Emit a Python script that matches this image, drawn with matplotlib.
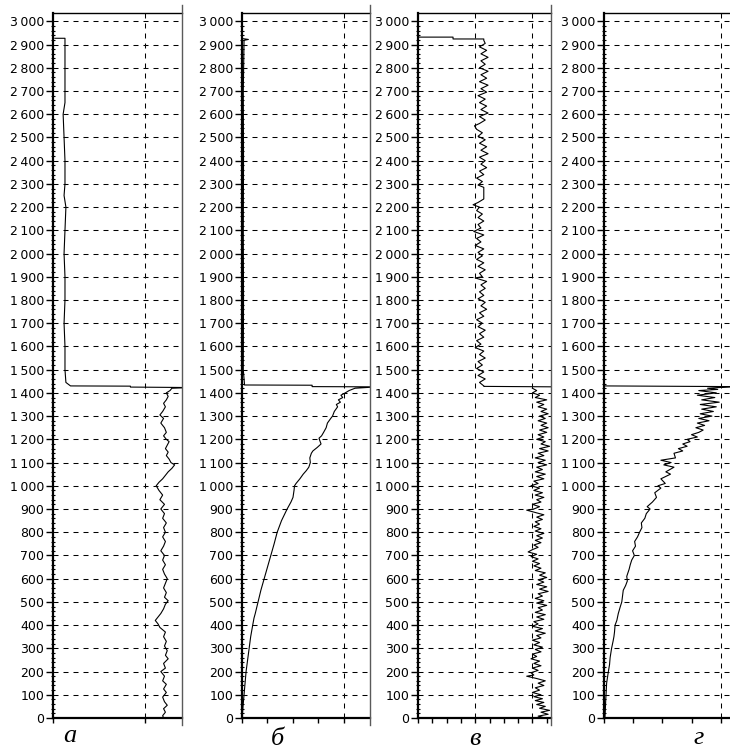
import matplotlib
matplotlib.use("Agg")
import matplotlib.pyplot as plt
from matplotlib.ticker import FixedLocator, FuncFormatter
from matplotlib.lines import Line2D

plt.rcParams['lines.scale_dashes'] = False
plt.rcParams['font.family'] = ['DejaVu Sans']

# ---------------- data ----------------
depth_major = list(range(0, 3001, 100))
depth_minor = list(range(0, 3001, 20))

# panel а
a_depth = [0, 10, 25, 40, 55, 70, 90, 110, 125, 145, 160, 180, 200, 215, 235, 255, 270, 290,
           310, 330, 350, 370, 390, 405, 420, 435, 450, 470, 490, 505, 520, 540, 560, 580,
           600, 620, 640, 660, 680, 700, 720, 740, 760, 780, 800, 820, 840, 860, 880, 900,
           920, 940, 960, 980, 1000, 1015, 1030, 1045, 1060, 1075, 1090, 1100, 1115, 1130,
           1145, 1160, 1175, 1190, 1200, 1215, 1230, 1250, 1270, 1290, 1305, 1320, 1340,
           1355, 1370, 1385, 1400, 1410, 1420,
           1423, 1425, 1429, 1430, 1445, 1500, 1600, 1700, 1800, 1900, 2000, 2100, 2200,
           2250, 2300, 2400, 2500, 2600, 2650, 2700, 2800, 2918, 2927, 2927]
a_value = [1.20, 1.19, 1.22, 1.20, 1.24, 1.21, 1.19, 1.23, 1.20, 1.23, 1.19, 1.21, 1.17, 1.22,
           1.20, 1.25, 1.22, 1.24, 1.21, 1.23, 1.20, 1.22, 1.16, 1.14, 1.11, 1.14, 1.17, 1.20,
           1.22, 1.25, 1.21, 1.23, 1.20, 1.22, 1.24, 1.21, 1.19, 1.22, 1.19, 1.21, 1.17, 1.20,
           1.22, 1.19, 1.22, 1.20, 1.23, 1.19, 1.21, 1.17, 1.21, 1.16, 1.19, 1.15, 1.12, 1.15,
           1.19, 1.22, 1.25, 1.29, 1.32, 1.28, 1.26, 1.23, 1.25, 1.22, 1.24, 1.26, 1.23, 1.20,
           1.23, 1.21, 1.17, 1.20, 1.16, 1.19, 1.22, 1.20, 1.23, 1.25, 1.23, 1.27, 1.29,
           1.50, 0.84, 0.84, 0.19, 0.14, 0.13, 0.13, 0.12, 0.13, 0.13, 0.12, 0.13, 0.14,
           0.12, 0.13, 0.13, 0.12, 0.11, 0.13, 0.13, 0.13, 0.13, 0.13, 0.02]

# panel б
b_depth = [0, 20, 50, 100, 150, 200, 250, 300, 350, 400, 430, 450, 500, 550, 600, 650, 700,
           750, 800, 850, 900, 930, 950, 980, 1000, 1010, 1030, 1050, 1065, 1080, 1100, 1120,
           1140, 1150, 1165, 1180, 1195, 1205, 1215, 1230, 1250, 1270, 1290, 1300, 1320,
           1340, 1350, 1360, 1370, 1380, 1390, 1400, 1410, 1420,
           1426, 1427, 1433, 1434, 1500, 1800, 2100, 2400, 2700, 2918, 2922, 2926]
b_value = [0.02, 0.02, 0.04, 0.08, 0.12, 0.16, 0.22, 0.28, 0.34, 0.42, 0.47, 0.52, 0.63,
           0.74, 0.87, 1.00, 1.13, 1.26, 1.38, 1.55, 1.77, 1.92, 2.00, 2.04, 2.06, 2.12,
           2.27, 2.40, 2.52, 2.62, 2.68, 2.66, 2.72, 2.78, 2.95, 3.10, 3.05, 3.02, 3.12,
           3.20, 3.30, 3.35, 3.48, 3.55, 3.62, 3.75, 3.70, 3.86, 3.78, 3.95, 3.88, 4.05,
           4.20, 4.43,
           5.30, 2.75, 2.75, 0.10, 0.05, 0.06, 0.05, 0.06, 0.05, 0.08, 0.25, 0.0]

# panel в, lower section
v_lo_depth = [0, 8, 16, 25, 33, 42, 50, 58, 67, 75, 83, 92, 100, 110, 120, 130, 140, 150,
              160, 170, 180, 185, 195, 205, 215, 225, 235, 245, 255, 265, 275, 285, 295,
              305, 315, 325, 335, 345, 355, 365, 375, 385, 395, 405, 415, 425, 435, 445,
              455, 465, 475, 485, 495, 505, 515, 525, 535, 545, 555, 565, 575, 585, 595,
              605, 615, 625, 635, 645, 655, 665, 675, 685, 695, 705, 715, 725, 735, 745,
              755, 765, 775, 785, 795, 805, 815, 825, 835, 845, 855, 865, 875, 885, 895,
              900, 910, 920, 930, 940, 950, 960, 970, 980, 990, 1000, 1010, 1020, 1030,
              1040, 1050, 1060, 1070, 1080, 1090, 1100, 1110, 1120, 1130, 1140, 1150, 1160,
              1170, 1180, 1190, 1200, 1210, 1220, 1230, 1240, 1250, 1260, 1270, 1280, 1290,
              1300, 1310, 1320, 1330, 1340, 1350, 1360, 1370, 1380, 1390, 1400, 1410, 1420]
v_lo_value = [8.9, 8.4, 9.1, 8.6, 9.2, 8.5, 8.9, 8.3, 8.8, 8.2, 8.7, 8.1, 8.6, 8.0, 8.5, 8.2,
              8.8, 8.4, 8.9, 8.3, 7.6, 8.1, 7.9, 8.4, 8.0, 8.6, 8.1, 8.5, 7.9, 8.3, 8.0, 8.6,
              8.2, 8.7, 8.1, 8.5, 8.0, 8.6, 8.3, 8.9, 8.2, 8.7, 8.0, 8.4, 8.1, 8.8, 8.3, 8.9,
              8.2, 8.7, 8.4, 9.0, 8.3, 8.8, 8.2, 8.7, 8.4, 9.1, 8.5, 9.0, 8.3, 8.8, 8.4, 9.0,
              8.5, 8.9, 8.2, 8.6, 8.1, 8.5, 8.0, 8.4, 7.9, 8.3, 7.7, 8.0, 8.4, 8.1, 8.6, 8.2,
              8.7, 8.3, 8.8, 8.2, 8.6, 8.1, 8.5, 8.2, 8.7, 8.3, 8.8, 8.2, 7.6, 8.1, 8.5, 8.0,
              8.6, 8.3, 8.8, 8.2, 8.7, 8.1, 8.5, 7.9, 8.4, 8.1, 8.8, 8.3, 8.9, 8.2, 8.7, 8.3,
              9.0, 8.4, 8.9, 8.2, 8.8, 8.4, 9.1, 8.5, 9.2, 8.6, 8.9, 8.3, 8.8, 8.4, 9.0, 8.5,
              9.1, 8.6, 9.0, 8.4, 8.9, 8.5, 9.1, 8.6, 9.0, 8.4, 8.8, 8.3, 9.0, 8.2, 8.5, 8.0,
              8.3, 8.0]

# panel в, upper section
v_up_depth = [1426, 1428, 1430, 1445, 1460, 1475, 1490, 1505, 1520, 1535, 1550, 1565, 1580,
              1595, 1610, 1625, 1640, 1655, 1670, 1685, 1700, 1715, 1730, 1745, 1760, 1775,
              1790, 1805, 1820, 1835, 1850, 1865, 1880, 1895, 1900, 1915, 1930, 1945, 1960,
              1975, 1990, 2005, 2020, 2035, 2050, 2065, 2080, 2095, 2110, 2125, 2140, 2155,
              2170, 2185, 2200, 2210, 2220, 2235, 2245, 2285, 2295, 2310, 2325, 2340, 2355,
              2370, 2385, 2400, 2415, 2430, 2445, 2460, 2475, 2490, 2505, 2520, 2535, 2550,
              2560, 2575, 2590, 2605, 2620, 2635, 2650, 2665, 2680, 2695, 2710, 2725, 2740,
              2755, 2770, 2785, 2800, 2815, 2830, 2845, 2860, 2875, 2890, 2905, 2918, 2924,
              2924, 2932, 2932]
v_up_value = [9.6, 4.6, 4.6, 4.3, 4.7, 4.2, 4.6, 4.1, 4.5, 4.2, 4.7, 4.3, 4.6, 4.0, 4.4, 4.1,
              4.6, 4.3, 4.7, 4.2, 4.5, 4.1, 4.6, 4.3, 4.8, 4.4, 4.7, 4.2, 4.6, 4.3, 4.7, 4.4,
              4.8, 4.0, 4.5, 4.3, 4.7, 4.2, 4.6, 4.1, 4.5, 4.2, 4.6, 4.0, 4.4, 4.1, 4.6, 3.9,
              4.4, 4.2, 4.6, 4.2, 4.5, 4.1, 4.3, 3.85, 4.2, 4.6, 4.6, 4.6, 4.2, 4.5, 4.1, 4.6,
              4.3, 4.8, 4.4, 4.7, 4.3, 4.9, 4.4, 4.8, 4.3, 4.7, 4.2, 4.5, 4.1, 3.95, 4.3, 4.7,
              4.3, 4.9, 4.4, 4.8, 4.3, 4.7, 4.2, 4.8, 4.4, 4.9, 4.3, 4.8, 4.4, 4.9, 4.3, 4.7,
              4.4, 4.9, 4.4, 4.8, 4.3, 4.7, 4.6, 4.6, 2.45, 2.45, 0.0]

# panel г
g_depth = [0, 20, 50, 80, 100, 150, 200, 230, 260, 300, 330, 350, 370, 400, 420, 450, 480,
           500, 530, 550, 570, 590, 610, 640, 660, 680, 700, 720, 740, 760, 780, 800, 820,
           840, 860, 880, 900, 910, 930, 950, 970, 990, 1000, 1010, 1030, 1050, 1060, 1080,
           1090, 1100, 1110, 1120, 1140, 1150, 1160, 1170, 1180, 1190, 1200, 1210, 1220,
           1230, 1240, 1250, 1260, 1270, 1280, 1290, 1300, 1310, 1320, 1330, 1340, 1350,
           1360, 1370, 1380, 1390, 1400, 1410, 1415, 1420, 1423,
           1427, 1430, 2930]
g_value = [0.03, 0.04, 0.05, 0.06, 0.07, 0.09, 0.15, 0.19, 0.21, 0.26, 0.31, 0.34, 0.36,
           0.38, 0.44, 0.49, 0.56, 0.61, 0.64, 0.66, 0.74, 0.80, 0.78, 0.86, 0.90, 0.95,
           1.04, 0.98, 1.08, 1.05, 1.15, 1.22, 1.30, 1.28, 1.40, 1.45, 1.58, 1.48, 1.66,
           1.80, 1.74, 1.95, 1.85, 2.10, 1.95, 2.28, 2.12, 2.40, 2.05, 2.30, 1.95, 2.45,
           2.40, 2.70, 2.55, 2.85, 2.70, 2.95, 2.85, 3.20, 3.00, 3.25, 3.40, 3.15, 3.45,
           3.20, 3.60, 3.25, 3.70, 3.30, 3.75, 3.35, 3.85, 3.30, 3.95, 3.35, 3.80, 3.20,
           3.85, 3.25, 3.90, 3.55, 3.95,
           4.50, 0.0, 0.0]

# panel geometry (pixels) and x-axis settings
panels = [
    dict(name='а', left=53, right=182, xmax=1.40, grid=[1], ticks=[0],
         x=a_value, y=a_depth, label_xy=(70, 742)),
    dict(name='б', left=242, right=370, xmax=5.02, grid=[4], ticks=[0, 1, 2, 3],
         x=b_value, y=b_depth, label_xy=(277, 745)),
    dict(name='в', left=418, right=551, xmax=9.30, grid=[4, 8], ticks=[0, 1, 2, 3, 5, 6, 7, 9],
         x=None, y=None, label_xy=(475, 745)),
    dict(name='г', left=604, right=730, xmax=4.32, grid=[4], ticks=[0, 1, 2, 3],
         x=g_value, y=g_depth, label_xy=(699, 744)),
]

W, H = 730, 752
TOP, BOTTOM = 12.5, 718
YMAX = 3038

fig = plt.figure(figsize=(W / 100, H / 100), dpi=100)

dash = (0, (3.6, 3.6))


def fmt_depth(v, pos):
    return f"{int(v):,}".replace(",", "\u2009")


for p in panels:
    ax = fig.add_axes([p['left'] / W, 1 - BOTTOM / H,
                       (p['right'] - p['left']) / W, (BOTTOM - TOP) / H])
    ax.set_xlim(0, p['xmax'])
    ax.set_ylim(0, YMAX)

    ax.yaxis.set_major_locator(FixedLocator(depth_major))
    ax.yaxis.set_minor_locator(FixedLocator(depth_minor))
    ax.yaxis.set_major_formatter(FuncFormatter(fmt_depth))
    ax.xaxis.set_major_locator(FixedLocator(p['grid']))
    ax.xaxis.set_minor_locator(FixedLocator(p['ticks']))

    ax.grid(axis='y', which='major', linestyle=dash, color='black', linewidth=0.75)
    ax.grid(axis='x', which='major', linestyle=dash, color='black', linewidth=0.75)
    ax.set_axisbelow(True)

    ax.tick_params(axis='y', which='major', direction='out', length=5, width=1.0,
                   pad=1.2, labelsize=9, colors='black')
    ax.tick_params(axis='y', which='minor', direction='inout', length=3, width=0.8)
    ax.tick_params(axis='x', which='both', direction='out', length=3.6, width=1.0,
                   labelbottom=False)

    ax.spines['right'].set_visible(False)
    ax.spines['left'].set_linewidth(1.6)
    ax.spines['bottom'].set_linewidth(1.6)
    ax.spines['top'].set_linewidth(1.0)

    if p['name'] == 'в':
        ax.plot(v_lo_value, v_lo_depth, color='black', linewidth=0.8)
        ax.plot(v_up_value, v_up_depth, color='black', linewidth=0.8)
    else:
        ax.plot(p['x'], p['y'], color='black', linewidth=0.8)

    lx, ly = p['label_xy']
    fig.text(lx / W, 1 - ly / H, p['name'], ha='center', va='baseline',
             family=['Liberation Serif'], style='italic', fontsize=19)

# vertical separators between panels
for sx in (182, 370, 551):
    fig.add_artist(Line2D([sx / W, sx / W], [1 - 5 / H, 1 - 725 / H],
                          color='#5a5a5a', linewidth=1.0))

fig.savefig('out.png', dpi=100)
